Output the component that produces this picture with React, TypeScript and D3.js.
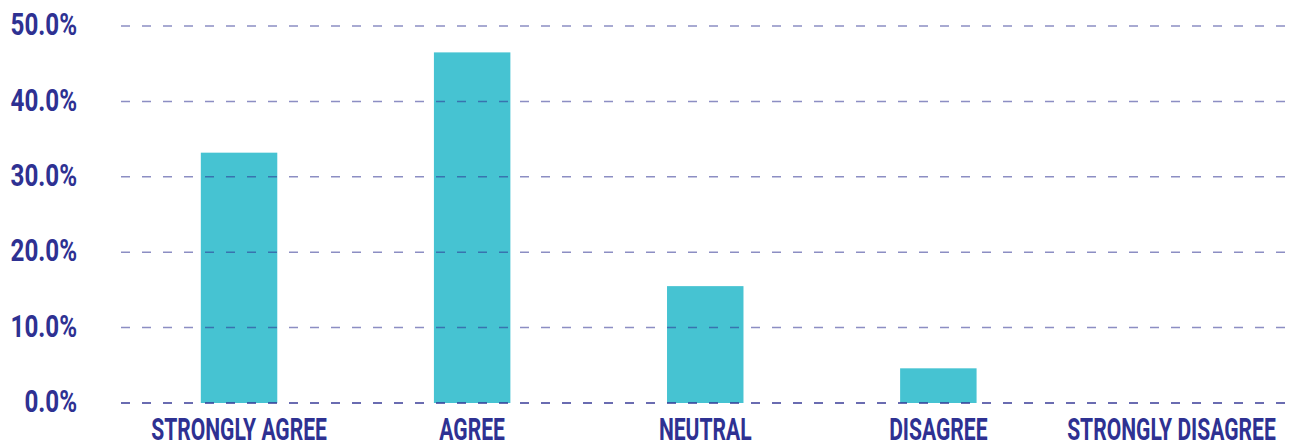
import React, { useEffect, useRef } from 'react';
import * as d3 from 'd3';

const categories = ['STRONGLY AGREE', 'AGREE', 'NEUTRAL', 'DISAGREE', 'STRONGLY DISAGREE'];
const shares = [33.2, 46.5, 15.5, 4.6, 0];
const yTicks = [0, 10, 20, 30, 40, 50];

const width = 1291;
const height = 444;
const navy = '#2e3192';
const barColor = '#46c3d2';
const font = 'Roboto, "DejaVu Sans", sans-serif';

const App: React.FC = () => {
  const svgRef = useRef<SVGSVGElement>(null);

  useEffect(() => {
    const svg = d3.select(svgRef.current);
    svg.selectAll('*').remove();

    const x = d3.scaleBand<string>()
      .domain(categories)
      .range([122.5, 1288])
      .paddingInner(0.672)
      .paddingOuter(0.336);

    const y = d3.scaleLinear().domain([0, 50]).range([403, 26]);

    // bars first, grid goes over them
    svg.append('g')
      .selectAll('rect')
      .data(shares)
      .enter()
      .append('rect')
      .attr('x', (d, i) => x(categories[i]) as number)
      .attr('y', d => y(d))
      .attr('width', x.bandwidth())
      .attr('height', d => y(0) - y(d))
      .attr('fill', barColor);

    svg.append('g')
      .selectAll('line')
      .data(yTicks)
      .enter()
      .append('line')
      .attr('x1', 121)
      .attr('x2', 1287)
      .attr('y1', d => y(d))
      .attr('y2', d => y(d))
      .attr('stroke', navy)
      .attr('stroke-opacity', d => (d === 0 ? 0.95 : 0.55))
      .attr('stroke-width', 1.5)
      .attr('stroke-dasharray', '9 12');

    // condensed look: squeeze the glyphs horizontally
    const yLabelScale = 0.78;
    const xLabelScale = 0.68;

    // y labels
    svg.append('g')
      .selectAll('g')
      .data(yTicks)
      .enter()
      .append('g')
      .attr('transform', d => `translate(77,${y(d) - 2}) scale(${yLabelScale},1)`)
      .append('text')
      .attr('dy', '0.36em')
      .attr('text-anchor', 'end')
      .style('font-family', font)
      .style('font-weight', 'bold')
      .style('font-size', '31px')
      .style('fill', navy)
      .text(d => d3.format('.1f')(d) + '%');

    // x labels
    svg.append('g')
      .selectAll('g')
      .data(categories)
      .enter()
      .append('g')
      .attr('transform', d => `translate(${(x(d) as number) + x.bandwidth() / 2},440) scale(${xLabelScale},1)`)
      .append('text')
      .attr('text-anchor', 'middle')
      .style('font-family', font)
      .style('font-weight', 'bold')
      .style('font-size', '31px')
      .style('fill', navy)
      .text(d => d);
  }, []);

  return (
    <svg
      ref={svgRef}
      width={width}
      height={height}
      style={{ position: 'absolute', left: 0, top: 0, background: '#fff' }}
    />
  );
};

export default App;
